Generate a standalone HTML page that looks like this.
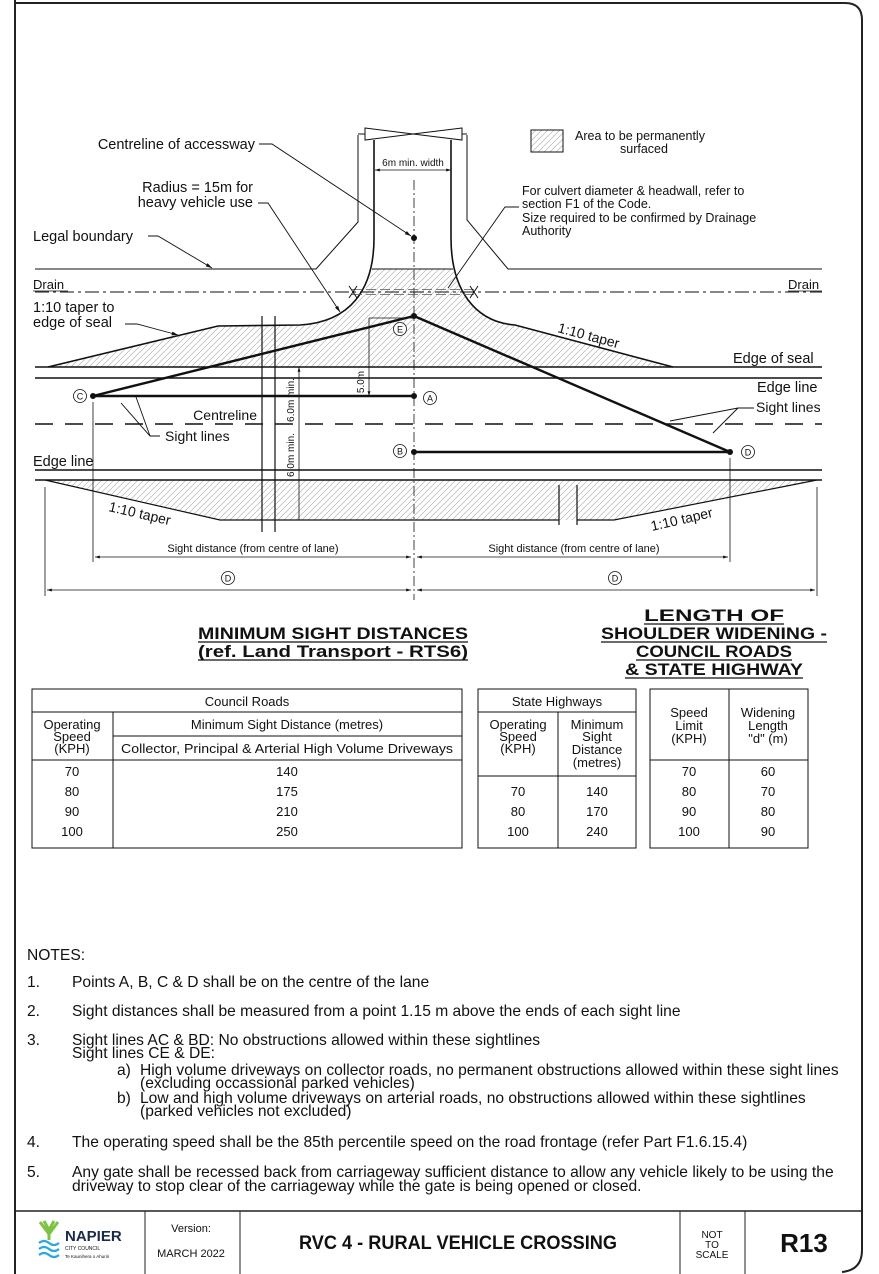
<!DOCTYPE html>
<html><head><meta charset="utf-8"><style>
html,body{margin:0;padding:0;background:#fff}
svg{display:block}
text{font-family:"Liberation Sans",Arial,sans-serif;fill:#111}
</style></head><body>
<svg width="879" height="1274" viewBox="0 0 879 1274" xmlns="http://www.w3.org/2000/svg">
<defs>
<pattern id="h" patternUnits="userSpaceOnUse" width="6" height="6">
<path d="M0,6 L6,0 M-1,1 L1,-1 M5,7 L7,5" stroke="#b5b5b5" stroke-width="0.7"/>
</pattern>
<marker id="ar" viewBox="0 0 10 10" refX="10" refY="5" markerWidth="7" markerHeight="7" orient="auto"><path d="M0,2 L10,5 L0,8 z" fill="#111"/></marker>
<marker id="ad" viewBox="0 0 10 10" refX="10" refY="5" markerWidth="6" markerHeight="6" orient="auto-start-reverse"><path d="M0,2 L10,5 L0,8 z" fill="#111"/></marker>
</defs>

<path d="M15,0 L15,1274 M15,3 L845,3 Q862,3 862,20 L862,1250 Q862,1270 842,1272" fill="none" stroke="#222" stroke-width="2"/>
<line x1="15" y1="1211" x2="862" y2="1211" stroke="#222" stroke-width="1.5"/>
<line x1="145" y1="1211" x2="145" y2="1274" stroke="#222" stroke-width="1"/>
<line x1="240" y1="1211" x2="240" y2="1274" stroke="#222" stroke-width="1"/>
<line x1="680" y1="1211" x2="680" y2="1274" stroke="#222" stroke-width="1"/>
<line x1="745" y1="1211" x2="745" y2="1274" stroke="#222" stroke-width="1"/>

<path d="M372,269 C366,300 345,322 300,325 L218,326 L48,367 L673,367 L515,325 C480,320 460,300 453,269 Z" fill="url(#h)"/>
<path d="M45,480 L817,480 L614,520 L220,520 Z" fill="url(#h)"/>

<g fill="none" stroke="#111" stroke-width="1">
<path d="M358,135 L358,222 L316,269 L35,269"/>
<path d="M467,135 L467,220 L508,269 L822,269"/>
<path d="M365,128 L413,134 L365,140 Z M462,128 L413,134 L462,140 Z"/>
<line x1="358" y1="134" x2="365" y2="134"/><line x1="462" y1="134" x2="467" y2="134"/>
<line x1="372" y1="269" x2="453" y2="269"/>
</g>
<g fill="none" stroke="#111" stroke-width="1.6">
<path d="M374,140 L374,238 C374,290 350,322 300,325 L218,326 L48,367"/>
<path d="M451,140 L451,238 C451,290 475,322 515,325 L673,367"/>
</g>
<line x1="375" y1="170" x2="451" y2="170" stroke="#111" stroke-width="0.8" marker-start="url(#ad)" marker-end="url(#ad)"/>
<text x="413" y="166" font-size="10" text-anchor="middle">6m min. width</text>
<line x1="414" y1="180" x2="414" y2="600" stroke="#111" stroke-width="0.8" stroke-dasharray="10,3,2,3"/>
<circle cx="414" cy="238" r="3" fill="#111"/>

<line x1="35" y1="292" x2="822" y2="292" stroke="#111" stroke-width="1" stroke-dasharray="14,4,3,4"/>
<path d="M352,289.5 L475,289.5 M352,294.5 L475,294.5" stroke="#555" stroke-width="0.8" stroke-dasharray="10,4"/>
<path d="M349,286 L357,298 M357,286 L349,298 M470,286 L478,298 M478,286 L470,298" stroke="#111" stroke-width="1"/>
<text x="33" y="289" font-size="13">Drain</text>
<line x1="33" y1="291" x2="68" y2="291" stroke="#111" stroke-width="0.8"/>
<text x="788" y="289" font-size="13">Drain</text>
<line x1="788" y1="291" x2="822" y2="291" stroke="#111" stroke-width="0.8"/>

<g stroke="#111" stroke-width="1.4">
<line x1="35" y1="367" x2="822" y2="367"/>
<line x1="35" y1="378" x2="822" y2="378"/>
<line x1="35" y1="470" x2="822" y2="470"/>
<line x1="35" y1="480" x2="822" y2="480"/>
</g>
<line x1="35" y1="424" x2="822" y2="424" stroke="#111" stroke-width="1.6" stroke-dasharray="18,12"/>
<path d="M45,480 L220,520 L559,520 M577,520 L614,520 L817,480" fill="none" stroke="#111" stroke-width="1.2"/>
<g stroke="#111" stroke-width="1.2" fill="none">
<line x1="262" y1="316" x2="262" y2="532"/><line x1="275" y1="316" x2="275" y2="532"/>
<line x1="559" y1="485" x2="559" y2="525"/><line x1="577" y1="485" x2="577" y2="525"/>
</g>
<line x1="299" y1="367" x2="299" y2="520" stroke="#111" stroke-width="0.8" marker-start="url(#ad)"/>
<text transform="translate(294,400) rotate(-90)" font-size="10" text-anchor="middle">6.0m min.</text>
<text transform="translate(294,455) rotate(-90)" font-size="10" text-anchor="middle">6.0m min.</text>
<line x1="369" y1="318" x2="414" y2="318" stroke="#111" stroke-width="0.8"/>
<line x1="369" y1="318" x2="369" y2="396" stroke="#111" stroke-width="0.8" marker-end="url(#ad)"/>
<text transform="translate(364,382) rotate(-90)" font-size="10" text-anchor="middle">5.0m</text>

<g stroke="#111" stroke-width="2.4">
<line x1="93" y1="396" x2="414" y2="316"/>
<line x1="93" y1="396" x2="414" y2="396"/>
<line x1="414" y1="316" x2="730" y2="452"/>
<line x1="414" y1="452" x2="730" y2="452"/>
</g>
<g fill="#111"><circle cx="93" cy="396" r="3"/><circle cx="414" cy="396" r="3"/><circle cx="414" cy="316" r="3"/><circle cx="414" cy="452" r="3"/><circle cx="730" cy="452" r="3"/></g>
<g fill="#fff" stroke="#111" stroke-width="0.8">
<circle cx="80" cy="396" r="6.5"/><circle cx="430" cy="398" r="6.5"/><circle cx="400" cy="451" r="6.5"/><circle cx="748" cy="452" r="6.5"/><circle cx="400" cy="329" r="6.5"/>
<circle cx="228" cy="578" r="6.5"/><circle cx="615" cy="578" r="6.5"/>
</g>
<g font-size="9" text-anchor="middle">
<text x="80" y="399.5">C</text><text x="430" y="401.5">A</text><text x="400" y="454.5">B</text><text x="748" y="455.5">D</text><text x="400" y="332.5">E</text>
<text x="228" y="581.5">D</text><text x="615" y="581.5">D</text>
</g>

<g stroke="#111" stroke-width="0.8">
<line x1="93" y1="402" x2="93" y2="562"/>
<line x1="730" y1="458" x2="730" y2="562"/>
<line x1="45" y1="487" x2="45" y2="596"/>
<line x1="817" y1="487" x2="817" y2="596"/>
<line x1="95" y1="557" x2="411" y2="557" marker-start="url(#ad)" marker-end="url(#ad)"/>
<line x1="417" y1="557" x2="728" y2="557" marker-start="url(#ad)" marker-end="url(#ad)"/>
<line x1="47" y1="590" x2="411" y2="590" marker-start="url(#ad)" marker-end="url(#ad)"/>
<line x1="417" y1="590" x2="815" y2="590" marker-start="url(#ad)" marker-end="url(#ad)"/>
</g>
<text x="253" y="552" font-size="11" text-anchor="middle">Sight distance (from centre of lane)</text>
<text x="574" y="552" font-size="11" text-anchor="middle">Sight distance (from centre of lane)</text>

<g fill="none" stroke="#111" stroke-width="0.9">
<path d="M259,144 L272,144 L411,236" marker-end="url(#ar)"/>
<path d="M258,203 L268,203 L340,312" marker-end="url(#ar)"/>
<path d="M148,236 L158,236 L212,268" marker-end="url(#ar)"/>
<path d="M519,207 L505,207 L448,288"/>
<path d="M125,324 L137,324 L178,335" marker-end="url(#ar)"/>
<path d="M160,436 L150,436 L121,403 M150,436 L136,397"/>
<path d="M754,408 L738,408 L670,421 M738,408 L713,433"/>
</g>

<g font-size="14.5">
<text x="255" y="149" text-anchor="end">Centreline of accessway</text>
<text x="253" y="192" text-anchor="end">Radius = 15m for</text>
<text x="253" y="207" text-anchor="end">heavy vehicle use</text>
<text x="33" y="241">Legal boundary</text>
<text x="33" y="312">1:10 taper to</text>
<text x="33" y="327">edge of seal</text>
<text x="733" y="363">Edge of seal</text>
<text x="757" y="392">Edge line</text>
<text x="33" y="466">Edge line</text>
<text x="257" y="420" text-anchor="end" font-size="14">Centreline</text>
<text x="165" y="441" font-size="14">Sight lines</text>
<text x="756" y="412" font-size="14">Sight lines</text>
<text transform="translate(557,332) rotate(15)" font-size="14">1:10 taper</text>
<text transform="translate(108,511) rotate(13)" font-size="14">1:10 taper</text>
<text transform="translate(652,531) rotate(-13)" font-size="14">1:10 taper</text>
</g>
<g font-size="12.5">
<text x="522" y="195">For culvert diameter &amp; headwall, refer to</text>
<text x="522" y="208">section F1 of the Code.</text>
<text x="522" y="222">Size required to be confirmed by Drainage</text>
<text x="522" y="235">Authority</text>
<text x="575" y="140">Area to be permanently</text>
<text x="620" y="153">surfaced</text>
</g>
<rect x="531" y="130" width="32" height="22" fill="url(#h)" stroke="#111" stroke-width="1"/>

<g font-size="17" font-weight="bold" text-anchor="middle">
<text x="333" y="639" textLength="270" lengthAdjust="spacingAndGlyphs">MINIMUM SIGHT DISTANCES</text>
<text x="333" y="657" textLength="270" lengthAdjust="spacingAndGlyphs">(ref. Land Transport - RTS6)</text>
<text x="714" y="621" textLength="140" lengthAdjust="spacingAndGlyphs">LENGTH OF</text>
<text x="714" y="639" textLength="226" lengthAdjust="spacingAndGlyphs">SHOULDER WIDENING -</text>
<text x="714" y="657" textLength="156" lengthAdjust="spacingAndGlyphs">COUNCIL ROADS</text>
<text x="714" y="675" textLength="178" lengthAdjust="spacingAndGlyphs">&amp; STATE HIGHWAY</text>
</g>
<g stroke="#111" stroke-width="1.2">
<line x1="198" y1="642" x2="468" y2="642"/><line x1="198" y1="660" x2="468" y2="660"/>
<line x1="644" y1="624" x2="784" y2="624"/><line x1="601" y1="642" x2="827" y2="642"/>
<line x1="636" y1="660" x2="792" y2="660"/><line x1="625" y1="678" x2="803" y2="678"/>
</g>

<g fill="none" stroke="#111" stroke-width="1">
<rect x="32" y="689" width="430" height="159"/>
<line x1="32" y1="712" x2="462" y2="712"/>
<line x1="113" y1="712" x2="113" y2="848"/>
<line x1="113" y1="736" x2="462" y2="736"/>
<line x1="32" y1="760" x2="462" y2="760"/>
<rect x="478" y="689" width="158" height="159"/>
<line x1="478" y1="712" x2="636" y2="712"/>
<line x1="558" y1="712" x2="558" y2="848"/>
<line x1="478" y1="776" x2="636" y2="776"/>
<rect x="650" y="689" width="158" height="159"/>
<line x1="729" y1="689" x2="729" y2="848"/>
<line x1="650" y1="760" x2="808" y2="760"/>
</g>
<g font-size="13" text-anchor="middle">
<text x="247" y="706">Council Roads</text>
<text x="72" y="729">Operating</text><text x="72" y="741">Speed</text><text x="72" y="753">(KPH)</text>
<text x="287" y="729">Minimum Sight Distance (metres)</text>
<text x="287" y="753" textLength="332" lengthAdjust="spacingAndGlyphs">Collector, Principal &amp; Arterial High Volume Driveways</text>
<text x="72" y="776">70</text><text x="287" y="776">140</text>
<text x="72" y="796">80</text><text x="287" y="796">175</text>
<text x="72" y="816">90</text><text x="287" y="816">210</text>
<text x="72" y="836">100</text><text x="287" y="836">250</text>
<text x="557" y="706">State Highways</text>
<text x="518" y="729">Operating</text><text x="518" y="741">Speed</text><text x="518" y="753">(KPH)</text>
<text x="597" y="729">Minimum</text><text x="597" y="741">Sight</text><text x="597" y="754">Distance</text><text x="597" y="767">(metres)</text>
<text x="518" y="796">70</text><text x="597" y="796">140</text>
<text x="518" y="816">80</text><text x="597" y="816">170</text>
<text x="518" y="836">100</text><text x="597" y="836">240</text>
<text x="689" y="717">Speed</text><text x="689" y="730">Limit</text><text x="689" y="743">(KPH)</text>
<text x="768" y="717">Widening</text><text x="768" y="730">Length</text><text x="768" y="743">"d" (m)</text>
<text x="689" y="776">70</text><text x="768" y="776">60</text>
<text x="689" y="796">80</text><text x="768" y="796">70</text>
<text x="689" y="816">90</text><text x="768" y="816">80</text>
<text x="689" y="836">100</text><text x="768" y="836">90</text>
</g>

<g font-size="15.6">
<text x="27" y="960">NOTES:</text>
<text x="27" y="987">1.</text><text x="72" y="987">Points A, B, C &amp; D shall be on the centre of the lane</text>
<text x="27" y="1016">2.</text><text x="72" y="1016">Sight distances shall be measured from a point 1.15 m above the ends of each sight line</text>
<text x="27" y="1045">3.</text><text x="72" y="1045">Sight lines AC &amp; BD: No obstructions allowed within these sightlines</text>
<text x="72" y="1058">Sight lines CE &amp; DE:</text>
<text x="117" y="1075">a)</text><text x="140" y="1075">High volume driveways on collector roads, no permanent obstructions allowed within these sight lines</text>
<text x="140" y="1088">(excluding occassional parked vehicles)</text>
<text x="117" y="1103">b)</text><text x="140" y="1103">Low and high volume driveways on arterial roads, no obstructions allowed within these sightlines</text>
<text x="140" y="1116">(parked vehicles not excluded)</text>
<text x="27" y="1147">4.</text><text x="72" y="1147">The operating speed shall be the 85th percentile speed on the road frontage (refer Part F1.6.15.4)</text>
<text x="27" y="1177">5.</text><text x="72" y="1177">Any gate shall be recessed back from carriageway sufficient distance to allow any vehicle likely to be using the</text>
<text x="72" y="1191">driveway to stop clear of the carriageway while the gate is being opened or closed.</text>
</g>

<g>
<path d="M40,1222 L49,1234 L58,1222 M44,1221 L49,1230 L54,1221 M49,1234 L49,1240" stroke="#7dc242" stroke-width="3" fill="none"/>
<path d="M39,1243 q5,-4 10,0 q5,4 10,0 M39,1249 q5,-4 10,0 q5,4 10,0 M39,1255 q5,-4 10,0 q5,4 10,0" stroke="#2aa7df" stroke-width="2.2" fill="none"/>
<text x="65" y="1241" font-size="15" font-weight="bold" style="fill:#1a2a4a">NAPIER</text>
<text x="65" y="1250" font-size="5">CITY COUNCIL</text>
<text x="65" y="1258" font-size="4.5">Te Kaunihera o Ahuriri</text>
</g>
<text x="191" y="1232" font-size="11" text-anchor="middle">Version:</text>
<text x="191" y="1257" font-size="11" text-anchor="middle">MARCH 2022</text>
<text x="458" y="1249" font-size="19" font-weight="bold" text-anchor="middle" textLength="318" lengthAdjust="spacingAndGlyphs">RVC 4 - RURAL VEHICLE CROSSING</text>
<text x="712" y="1238" font-size="10" text-anchor="middle">NOT</text>
<text x="712" y="1248" font-size="10" text-anchor="middle">TO</text>
<text x="712" y="1258" font-size="10" text-anchor="middle">SCALE</text>
<text x="804" y="1252" font-size="26" font-weight="bold" text-anchor="middle">R13</text>
</svg>
</body></html>
